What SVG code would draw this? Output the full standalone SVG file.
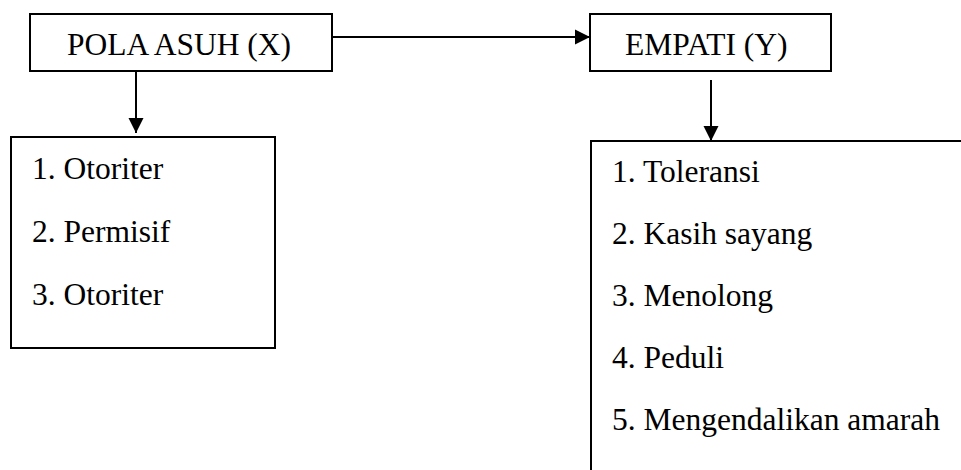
<svg xmlns="http://www.w3.org/2000/svg" width="961" height="470" viewBox="0 0 961 470">
<style>
.box{fill:#fff;stroke:#000;stroke-width:2}
.t{font-family:"Liberation Serif","Times New Roman",serif;font-size:31.5px;fill:#000}
.c{stroke:#000;stroke-width:2;fill:none}
</style>
<defs>
<marker id="ah" markerUnits="userSpaceOnUse" markerWidth="16" markerHeight="16" viewBox="0 0 16 16" refX="15" refY="8" orient="auto">
<path d="M0,0.5 L15,8 L0,15.5 Z" fill="#000"/>
</marker>
</defs>
<rect width="961" height="470" fill="#fff"/>
<g id="node-pola-asuh">
<rect class="box" x="30" y="14" width="302" height="57"/>
<text class="t" x="67" y="55">POLA ASUH (X)</text>
</g>
<g id="node-empati">
<rect class="box" x="590" y="14" width="241" height="57"/>
<text class="t" x="625" y="55">EMPATI (Y)</text>
</g>
<g id="node-pola-list">
<rect class="box" x="11" y="137" width="264" height="211"/>
<text class="t" x="32" y="179">1. Otoriter</text>
<text class="t" x="32" y="242">2. Permisif</text>
<text class="t" x="32" y="305">3. Otoriter</text>
</g>
<g id="node-empati-list">
<rect class="box" x="591" y="141" width="390" height="350"/>
<text class="t" x="612" y="182">1. Toleransi</text>
<text class="t" x="612" y="244">2. Kasih sayang</text>
<text class="t" x="612" y="306">3. Menolong</text>
<text class="t" x="612" y="368">4. Peduli</text>
<text class="t" x="612" y="430">5. Mengendalikan amarah</text>
</g>
<g id="connectors">
<line class="c" x1="332" y1="37" x2="590" y2="37" marker-end="url(#ah)"/>
<line class="c" x1="136" y1="71" x2="136" y2="133" marker-end="url(#ah)"/>
<line class="c" x1="711" y1="80" x2="711" y2="141" marker-end="url(#ah)"/>
</g>
</svg>
